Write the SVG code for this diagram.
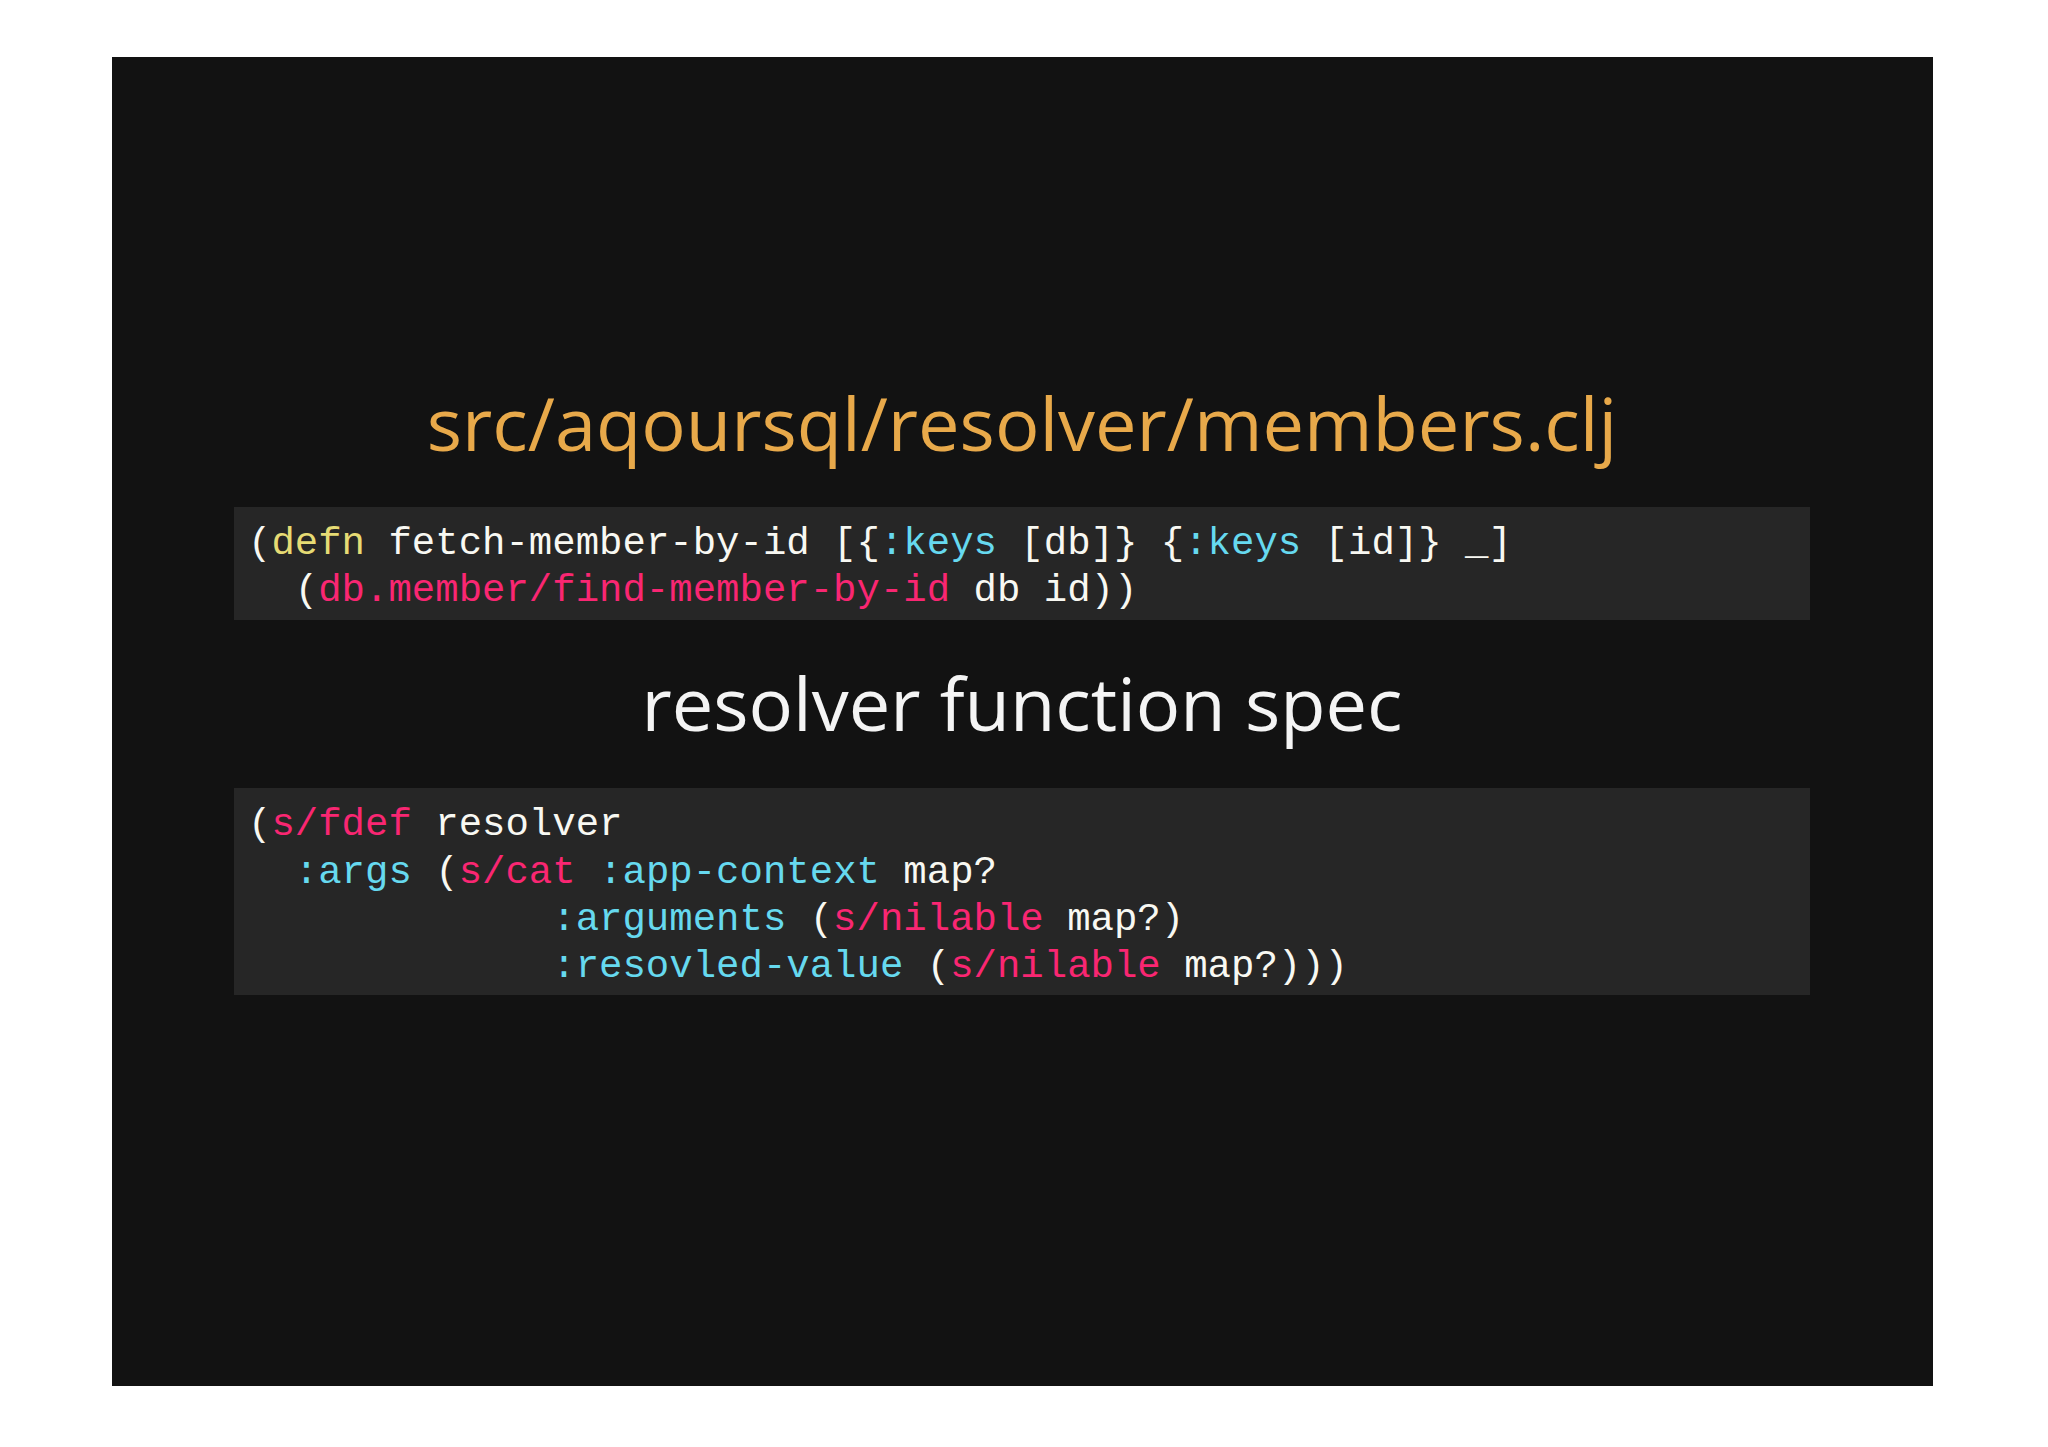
<svg xmlns="http://www.w3.org/2000/svg" width="2048" height="1447" viewBox="0 0 2048 1447">
<style>
.c{font-family:"Liberation Mono","DejaVu Sans Mono",monospace;font-size:39px;fill:#f8f8f2;white-space:pre}
.y{fill:#e6db74}.b{fill:#66d9ef}.p{fill:#f92672}
.h{font-family:"Open Sans","Noto Sans",sans-serif;text-anchor:middle}
</style>
<rect width="2048" height="1447" fill="#ffffff"/>
<rect x="112" y="57" width="1821" height="1329" fill="#121212"/>
<g id="title"><text class="h" x="1022" y="451" font-size="74" fill="#e8a94a">src/aqoursql/resolver/members.clj</text></g>
<g id="code1">
<rect x="234" y="507" width="1576" height="113" fill="#262626"/>
<text class="c" x="248" y="554" xml:space="preserve">(<tspan class="y">defn</tspan> fetch-member-by-id [{<tspan class="b">:keys</tspan> [db]} {<tspan class="b">:keys</tspan> [id]} _]</text>
<text class="c" x="248" y="601" xml:space="preserve">  (<tspan class="p">db.member/find-member-by-id</tspan> db id))</text>
</g>
<g id="subtitle"><text class="h" x="1022" y="731" font-size="74" fill="#f4f4f4">resolver function spec</text></g>
<g id="code2">
<rect x="234" y="788" width="1576" height="207" fill="#262626"/>
<text class="c" x="248" y="835" xml:space="preserve">(<tspan class="p">s/fdef</tspan> resolver</text>
<text class="c" x="248" y="883" xml:space="preserve">  <tspan class="b">:args</tspan> (<tspan class="p">s/cat</tspan> <tspan class="b">:app-context</tspan> map?</text>
<text class="c" x="248" y="930" xml:space="preserve">             <tspan class="b">:arguments</tspan> (<tspan class="p">s/nilable</tspan> map?)</text>
<text class="c" x="248" y="977" xml:space="preserve">             <tspan class="b">:resovled-value</tspan> (<tspan class="p">s/nilable</tspan> map?)))</text>
</g>
</svg>
